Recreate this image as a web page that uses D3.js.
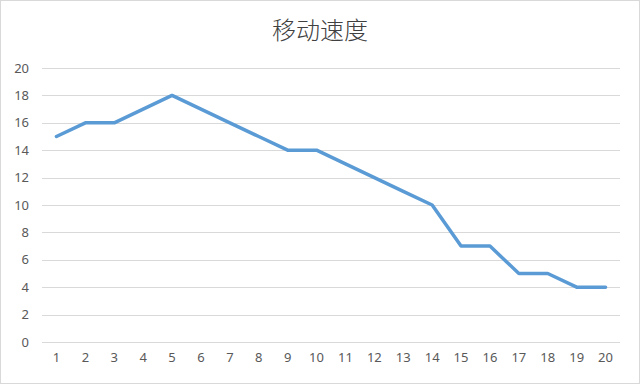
<!DOCTYPE html>
<html>
<head>
<meta charset="utf-8">
<script src="https://cdn.jsdelivr.net/npm/d3@7"></script>
<style>
  html, body { margin: 0; padding: 0; background: #fff; }
  svg { display: block; }
</style>
</head>
<body>
<svg id="chart" width="640" height="384"></svg>
<script>
  // data
  var titleText = "移动速度";
  var categories = ["1", "2", "3", "4", "5", "6", "7", "8", "9", "10",
    "11", "12", "13", "14", "15", "16", "17", "18", "19", "20"];
  var speedValues = [15, 16, 16, 17, 18, 17, 16, 15, 14, 14,
    13, 12, 11, 10, 7, 7, 5, 5, 4, 4];
  var yTicks = [0, 2, 4, 6, 8, 10, 12, 14, 16, 18, 20];

  (function () {
    var W = 640, H = 384;
    // plot box (note: "top" would clash with window.top)
    var pLeft = 42, pRight = 620, pTop = 68, pBottom = 342;
    var labelFont = "'Noto Sans', 'Open Sans', sans-serif";

    var svg = d3.select("#chart");

    // chart border
    svg.append("rect")
      .attr("x", 0.5).attr("y", 0.5)
      .attr("width", W - 1).attr("height", H - 1)
      .attr("fill", "#fff")
      .attr("stroke", "#d9d9d9");

    var x = d3.scaleBand().domain(categories).range([pLeft, pRight]);
    var y = d3.scaleLinear().domain([0, 20]).range([pBottom, pTop]);

    // title
    svg.append("text")
      .attr("x", 320).attr("y", 39)
      .attr("text-anchor", "middle")
      .attr("font-family", "'Noto Sans CJK SC', sans-serif")
      .attr("font-weight", 300)
      .attr("font-size", 24)
      .attr("fill", "#404040")
      .text(titleText);

    // gridlines
    svg.append("g")
      .selectAll("line")
      .data(yTicks)
      .join("line")
      .attr("x1", pLeft).attr("x2", pRight)
      .attr("y1", function (d) { return Math.round(y(d)) + 0.5; })
      .attr("y2", function (d) { return Math.round(y(d)) + 0.5; })
      .attr("stroke", "#d9d9d9")
      .attr("stroke-width", 1);

    // y axis labels
    var gy = svg.append("g")
      .attr("transform", "translate(" + pLeft + ",0)")
      .call(d3.axisLeft(y).tickValues(yTicks).tickSize(0).tickPadding(13));
    gy.select(".domain").remove();
    gy.selectAll("text")
      .attr("font-family", labelFont)
      .attr("font-size", 13)
      .attr("fill", "#595959");

    // x axis labels
    var gx = svg.append("g")
      .attr("transform", "translate(0," + pBottom + ")")
      .call(d3.axisBottom(x).tickSize(0).tickPadding(11));
    gx.select(".domain").remove();
    gx.selectAll("text")
      .attr("font-family", labelFont)
      .attr("font-size", 13)
      .attr("fill", "#595959");

    // line
    var line = d3.line()
      .x(function (d, i) { return x(categories[i]) + x.bandwidth() / 2; })
      .y(function (d) { return y(d); });

    svg.append("path")
      .datum(speedValues)
      .attr("d", line)
      .attr("fill", "none")
      .attr("stroke", "#5b9bd5")
      .attr("stroke-width", 3.5)
      .attr("stroke-linejoin", "round")
      .attr("stroke-linecap", "round");
  })();
</script>
</body>
</html>
